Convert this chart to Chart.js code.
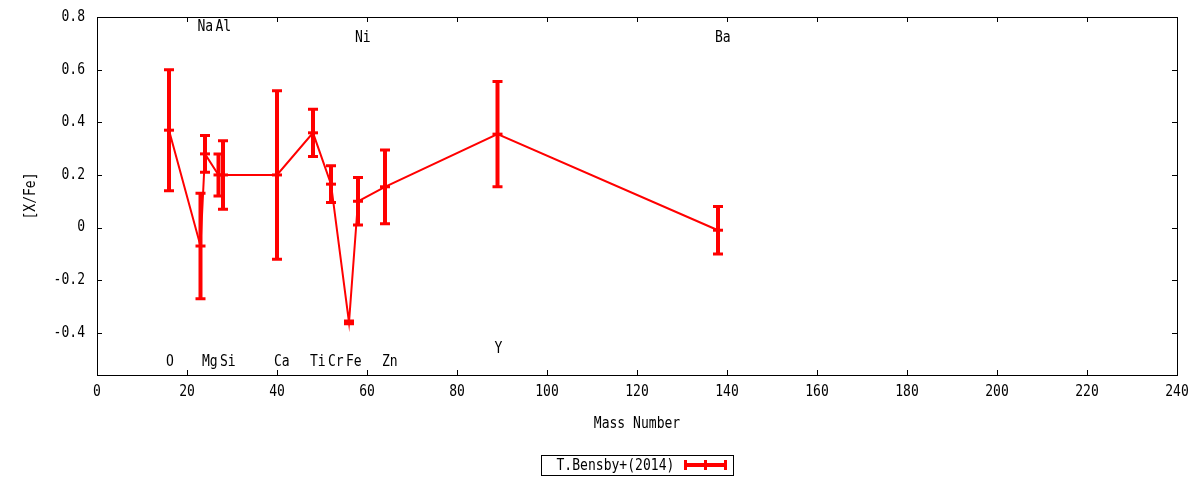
<!DOCTYPE html>
<html>
<head>
<meta charset="utf-8">
<script src="https://cdn.jsdelivr.net/npm/chart.js@4.4.0/dist/chart.umd.min.js"></script>
<style>
  html, body { margin: 0; padding: 0; background: #fff; }
  #wrap { width: 1200px; height: 480px; position: relative; }
</style>
</head>
<body>
<div id="wrap"><canvas id="abund"></canvas></div>
<script>
// element abundances vs mass number, T.Bensby+(2014)
const elements   = ['O', 'Na', 'Mg', 'Al', 'Si', 'Ca', 'Ti', 'Cr', 'Fe', 'Ni', 'Zn', 'Y', 'Ba'];
const massNumber = [16, 23, 24, 27, 28, 40, 48, 52, 56, 58, 64, 89, 138];
const xFe        = [0.37, -0.07, 0.28, 0.20, 0.20, 0.20, 0.36, 0.165, -0.36, 0.10, 0.155, 0.355, -0.01];
const xFeErr     = [0.23, 0.20, 0.07, 0.08, 0.13, 0.32, 0.09, 0.07, 0.005, 0.09, 0.14, 0.20, 0.09];
// where each element name sits, in [X/Fe] units
const labelY     = [-0.51, 0.76, -0.51, 0.76, -0.51, -0.51, -0.51, -0.51, -0.51, 0.72, -0.51, -0.46, 0.72];
const xTicks = [0, 20, 40, 60, 80, 100, 120, 140, 160, 180, 200, 220, 240];
const yTicks = [-0.4, -0.2, 0, 0.2, 0.4, 0.6, 0.8];
const seriesName = 'T.Bensby+(2014)';

const RED = '#ff0000';
const FONT = '"DejaVu Sans Mono", monospace';
const FS = 15;
const SQUEEZE = 0.87; // gnuplot's font is narrower than DejaVu Mono

// squeeze every text draw horizontally around its anchor
const condense = {
  id: 'condense',
  beforeDraw(chart) {
    const ctx = chart.ctx;
    if (ctx._condensed) return;
    const orig = ctx.fillText.bind(ctx);
    ctx.fillText = function (t, x, y, mw) {
      ctx.save();
      ctx.translate(x, y);
      ctx.scale(SQUEEZE, 1);
      if (mw === undefined) orig(t, 0, 0); else orig(t, 0, 0, mw / SQUEEZE);
      ctx.restore();
    };
    ctx._condensed = true;
  }
};

const gnuplotBits = {
  id: 'gnuplotBits',
  afterDatasetsDraw(chart) {
    const ctx = chart.ctx;
    const x = chart.scales.x, y = chart.scales.y;
    const a = chart.chartArea;
    ctx.save();
    // error bars
    ctx.strokeStyle = RED;
    ctx.lineCap = 'butt';
    for (let i = 0; i < massNumber.length; i++) {
      const px = x.getPixelForValue(massNumber[i]);
      const top = y.getPixelForValue(xFe[i] + xFeErr[i]);
      const bot = y.getPixelForValue(xFe[i] - xFeErr[i]);
      ctx.lineWidth = 4;
      ctx.beginPath();
      ctx.moveTo(px, top); ctx.lineTo(px, bot);
      ctx.stroke();
      ctx.lineWidth = 3;
      ctx.beginPath();
      ctx.moveTo(px - 5, top); ctx.lineTo(px + 5, top);
      ctx.moveTo(px - 5, bot); ctx.lineTo(px + 5, bot);
      ctx.stroke();
    }
    // element names
    ctx.fillStyle = '#000';
    ctx.font = FS + 'px ' + FONT;
    ctx.textAlign = 'left';
    ctx.textBaseline = 'middle';
    for (let i = 0; i < elements.length; i++) {
      const lx = x.getPixelForValue(massNumber[i]) - 3;
      const ly = y.getPixelForValue(labelY[i]);
      ctx.fillText(elements[i], lx, ly);
    }
    // frame and inward ticks
    ctx.strokeStyle = '#000';
    ctx.lineWidth = 1;
    ctx.strokeRect(a.left + 0.5, a.top + 0.5, a.right - a.left, a.bottom - a.top);
    ctx.beginPath();
    xTicks.forEach(v => {
      const px = Math.round(x.getPixelForValue(v)) + 0.5;
      ctx.moveTo(px, a.bottom); ctx.lineTo(px, a.bottom - 5);
      ctx.moveTo(px, a.top); ctx.lineTo(px, a.top + 5);
    });
    yTicks.forEach(v => {
      const py = Math.round(y.getPixelForValue(v)) + 0.5;
      ctx.moveTo(a.left, py); ctx.lineTo(a.left + 5, py);
      ctx.moveTo(a.right, py); ctx.lineTo(a.right - 5, py);
    });
    ctx.stroke();
    // key box
    const cx = (a.left + a.right) / 2;
    const bw = 192, bh = 20, by = 455;
    const bx = Math.round(cx - bw / 2) + 0.5;
    ctx.strokeRect(bx, by + 0.5, bw, bh);
    ctx.textAlign = 'left';
    ctx.fillText(seriesName, bx + 15, by + bh / 2 + 1);
    const sx0 = bx + 143, sx1 = bx + 185, sy = by + bh / 2;
    ctx.strokeStyle = RED;
    ctx.lineWidth = 4;
    ctx.beginPath();
    ctx.moveTo(sx0, sy); ctx.lineTo(sx1, sy);
    ctx.stroke();
    ctx.lineWidth = 3;
    ctx.beginPath();
    [sx0 + 1, (sx0 + sx1) / 2, sx1 - 1].forEach(t => {
      ctx.moveTo(t, sy - 5); ctx.lineTo(t, sy + 5);
    });
    ctx.stroke();
    ctx.restore();
  }
};

new Chart(document.getElementById('abund'), {
  type: 'line',
  data: {
    datasets: [{
      label: seriesName,
      data: massNumber.map((m, i) => ({ x: m, y: xFe[i] })),
      borderColor: RED,
      backgroundColor: RED,
      borderWidth: 2,
      pointStyle: 'line',
      pointRadius: 5,
      pointBorderWidth: 3,
      pointBorderColor: RED,
      tension: 0,
      fill: false
    }]
  },
  options: {
    responsive: true,
    maintainAspectRatio: false,
    animation: false,
    layout: { padding: { left: 22, right: 23, top: 17, bottom: 47 } },
    plugins: { legend: { display: false }, tooltip: { enabled: false } },
    scales: {
      x: {
        type: 'linear',
        min: 0, max: 240,
        afterBuildTicks: s => { s.ticks = xTicks.map(v => ({ value: v })); },
        afterFit: s => { s.height = 58; s.paddingLeft = 0; s.paddingRight = 0; },
        grid: { display: false, drawTicks: false },
        border: { display: false },
        ticks: { color: '#000', font: { family: FONT, size: FS }, padding: 8, maxRotation: 0 },
        title: { display: true, text: 'Mass Number', color: '#000', font: { family: FONT, size: FS }, padding: 0 }
      },
      y: {
        type: 'linear',
        min: -0.56, max: 0.8,
        afterBuildTicks: s => { s.ticks = yTicks.map(v => ({ value: v })); },
        afterFit: s => { s.width = 75; s.paddingTop = 0; s.paddingBottom = 0; },
        grid: { display: false, drawTicks: false },
        border: { display: false },
        ticks: {
          color: '#000', font: { family: FONT, size: FS }, padding: 12,
          callback: v => String(Math.round(v * 10) / 10)
        },
        title: { display: true, text: '[X/Fe]', color: '#000', font: { family: FONT, size: FS }, padding: 0 }
      }
    }
  },
  plugins: [condense, gnuplotBits]
});
</script>
</body>
</html>
